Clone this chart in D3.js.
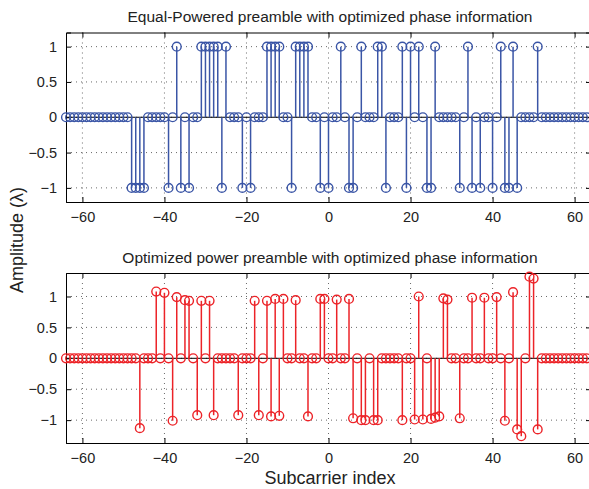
<!DOCTYPE html>
<html>
<head>
<meta charset="utf-8">
<script src="https://cdn.jsdelivr.net/npm/d3@7"></script>
<style>
  body { margin: 0; background: #fff; }
  svg { display: block; font-family: "Liberation Sans", Arial, Helvetica, sans-serif; }
</style>
</head>
<body>
<div id="chart"></div>
<script>
// Subcarrier indices -64 .. 63
var subcarriers = d3.range(-64, 64);

// Equal-powered preamble (one value per subcarrier, -64 .. 63)
var equalPower = [
     0,  0,  0,  0,  0,  0,  0,  0,  0,  0,  0,  0,  0,  0,  0,  0,   // -64 .. -49
    -1, -1, -1, -1,  0,  0,  0,  0,  0, -1,  0,  1, -1,  0, -1,  0,   // -48 .. -33
     0,  1,  1,  1,  1,  1, -1,  1,  0,  0,  0, -1,  0, -1,  0,  0,   // -32 .. -17
     0,  1,  1,  1,  1,  0,  0, -1,  1,  1,  1,  1,  0,  0, -1,  0,   // -16 .. -1
    -1,  0,  0,  1,  0, -1, -1,  0,  1,  0,  0,  0,  1,  1, -1,  0,   //   0 .. 15
     0,  0,  1, -1,  1,  0,  1,  0, -1, -1,  1,  0,  0,  0,  0,  0,   //  16 .. 31
    -1,  0,  1, -1,  0, -1,  0,  0, -1,  0,  1, -1, -1,  1, -1,  0,   //  32 .. 47
     0,  0,  0,  1,  0,  0,  0,  0,  0,  0,  0,  0,  0,  0,  0,  0    //  48 .. 63
];

// Optimized power preamble (one value per subcarrier, -64 .. 63)
var optimizedPower = [
     0,     0,     0,     0,     0,     0,     0,     0,     // -64 .. -57
     0,     0,     0,     0,     0,     0,     0,     0,     // -56 .. -49
     0,     0, -1.13,     0,     0,     0,  1.08,     0,     // -48 .. -41
  1.06,     0, -1.01,  0.99,     0,  0.94,  0.93,     0,     // -40 .. -33
 -0.92,  0.93,     0,  0.93, -0.92,     0,     0,     0,     // -32 .. -25
     0,     0, -0.92,     0,     0,     0,  0.93, -0.92,     // -24 .. -17
     0,  0.93, -0.94,  0.96, -0.93,  0.96,     0,     0,     // -16 .. -9
  0.94,     0,     0, -0.94,     0,     0,  0.96,  0.96,     //  -8 .. -1
     0,     0,  0.95,     0,     0,  0.96, -0.97,     0,     //   0 .. 7
 -1.00, -1.00,     0, -1.00, -1.00,     0,     0,     0,     //   8 .. 15
     0,     0, -1.00,     0,     0, -0.99,  1.00, -0.99,     //  16 .. 23
     0, -0.98, -0.96, -0.94,  0.97,  0.95,     0,     0,     //  24 .. 31
 -0.97,     0,     0,  0.98,     0,     0,  0.98,     0,     //  32 .. 39
     0,  0.99,     0, -1.01,     0,  1.07, -1.15, -1.26,     //  40 .. 47
     0,  1.32,  1.29, -1.15,     0,     0,     0,     0,     //  48 .. 55
     0,     0,     0,     0,     0,     0,     0,     0      //  56 .. 63
];

var xTicks = [-60, -40, -20, 0, 20, 40, 60];
var yTicks = [-1, -0.5, 0, 0.5, 1];

var width = 589, height = 489;

var svg = d3.select('#chart').append('svg')
    .attr('width', width)
    .attr('height', height);

function fmt(d) {
    var s = (d === 0) ? '0' : String(Math.abs(d));
    return d < 0 ? '\u2212' + s : s;
}

function drawPanel(opts) {
    var x = d3.scaleLinear().domain([-64, 64]).range([66, 591]);
    var y = d3.scaleLinear().domain(opts.yDomain).range([opts.bottom, opts.top]);
    var g = svg.append('g');

    // dotted grid
    g.selectAll('.vgrid')
        .data(xTicks)
        .enter()
        .append('line')
        .attr('x1', function(d) { return x(d); })
        .attr('x2', function(d) { return x(d); })
        .attr('y1', opts.top)
        .attr('y2', opts.bottom)
        .attr('stroke', '#444')
        .attr('stroke-width', 0.8)
        .attr('stroke-dasharray', '1,4');
    g.selectAll('.hgrid')
        .data(yTicks)
        .enter()
        .append('line')
        .attr('x1', 66)
        .attr('x2', 591)
        .attr('y1', function(d) { return y(d); })
        .attr('y2', function(d) { return y(d); })
        .attr('stroke', '#444')
        .attr('stroke-width', 0.8)
        .attr('stroke-dasharray', '1,4');

    // axes (ticks inside, MATLAB style)
    g.append('g')
        .attr('transform', 'translate(0,' + opts.bottom + ')')
        .call(d3.axisBottom(x).tickValues(xTicks).tickSize(-5).tickPadding(10).tickFormat(fmt));
    g.append('g')
        .attr('transform', 'translate(0,' + opts.top + ')')
        .call(d3.axisTop(x).tickValues(xTicks).tickSize(-5).tickFormat(''));
    g.append('g')
        .attr('transform', 'translate(66,0)')
        .call(d3.axisLeft(y).tickValues(yTicks).tickSize(-5).tickPadding(9).tickFormat(fmt));
    g.append('g')
        .attr('transform', 'translate(591,0)')
        .call(d3.axisRight(y).tickValues(yTicks).tickSize(-5).tickFormat(''));

    g.selectAll('.domain').attr('stroke', '#000').attr('stroke-width', 1);
    g.selectAll('.tick line').attr('stroke', '#000');
    g.selectAll('.tick text')
        .attr('font-size', '14.5px')
        .attr('fill', '#222')
        .attr('font-family', '"Liberation Sans", Arial, Helvetica, sans-serif');

    // baseline
    g.append('line')
        .attr('x1', 66)
        .attr('x2', 591)
        .attr('y1', y(0))
        .attr('y2', y(0))
        .attr('stroke', '#000')
        .attr('stroke-width', 1);

    var pts = subcarriers.map(function(k, i) { return { k: k, v: opts.values[i] }; });

    // stems
    g.selectAll('.stem')
        .data(pts.filter(function(d) { return d.v !== 0; }))
        .enter()
        .append('line')
        .attr('x1', function(d) { return x(d.k); })
        .attr('x2', function(d) { return x(d.k); })
        .attr('y1', y(0))
        .attr('y2', function(d) { return y(d.v); })
        .attr('stroke', opts.color)
        .attr('stroke-width', 1.5);

    // markers
    g.selectAll('.mark')
        .data(pts)
        .enter()
        .append('circle')
        .attr('cx', function(d) { return x(d.k); })
        .attr('cy', function(d) { return y(d.v); })
        .attr('r', 4.4)
        .attr('fill', 'none')
        .attr('stroke', opts.color)
        .attr('stroke-width', 1.4);

    // title
    svg.append('text')
        .attr('x', 330)
        .attr('y', opts.titleY)
        .attr('text-anchor', 'middle')
        .attr('font-size', '15.5px')
        .attr('fill', '#222')
        .text(opts.title);
}

drawPanel({
    values: equalPower,
    yDomain: [-1.2, 1.2],
    top: 32.5,
    bottom: 202,
    color: '#3a55a6',
    title: 'Equal-Powered preamble with optimized phase information',
    titleY: 22
});

drawPanel({
    values: optimizedPower,
    yDomain: [-1.37, 1.38],
    top: 273,
    bottom: 443,
    color: '#ec2328',
    title: 'Optimized power preamble with optimized phase information',
    titleY: 263
});

// axis labels
svg.append('text')
    .attr('x', 330)
    .attr('y', 484)
    .attr('text-anchor', 'middle')
    .attr('font-size', '18px')
    .attr('fill', '#222')
    .text('Subcarrier index');

svg.append('text')
    .attr('transform', 'translate(23,240) rotate(-90)')
    .attr('text-anchor', 'middle')
    .attr('font-size', '18px')
    .attr('fill', '#222')
    .text('Amplitude (\u03bb)');
</script>
</body>
</html>
